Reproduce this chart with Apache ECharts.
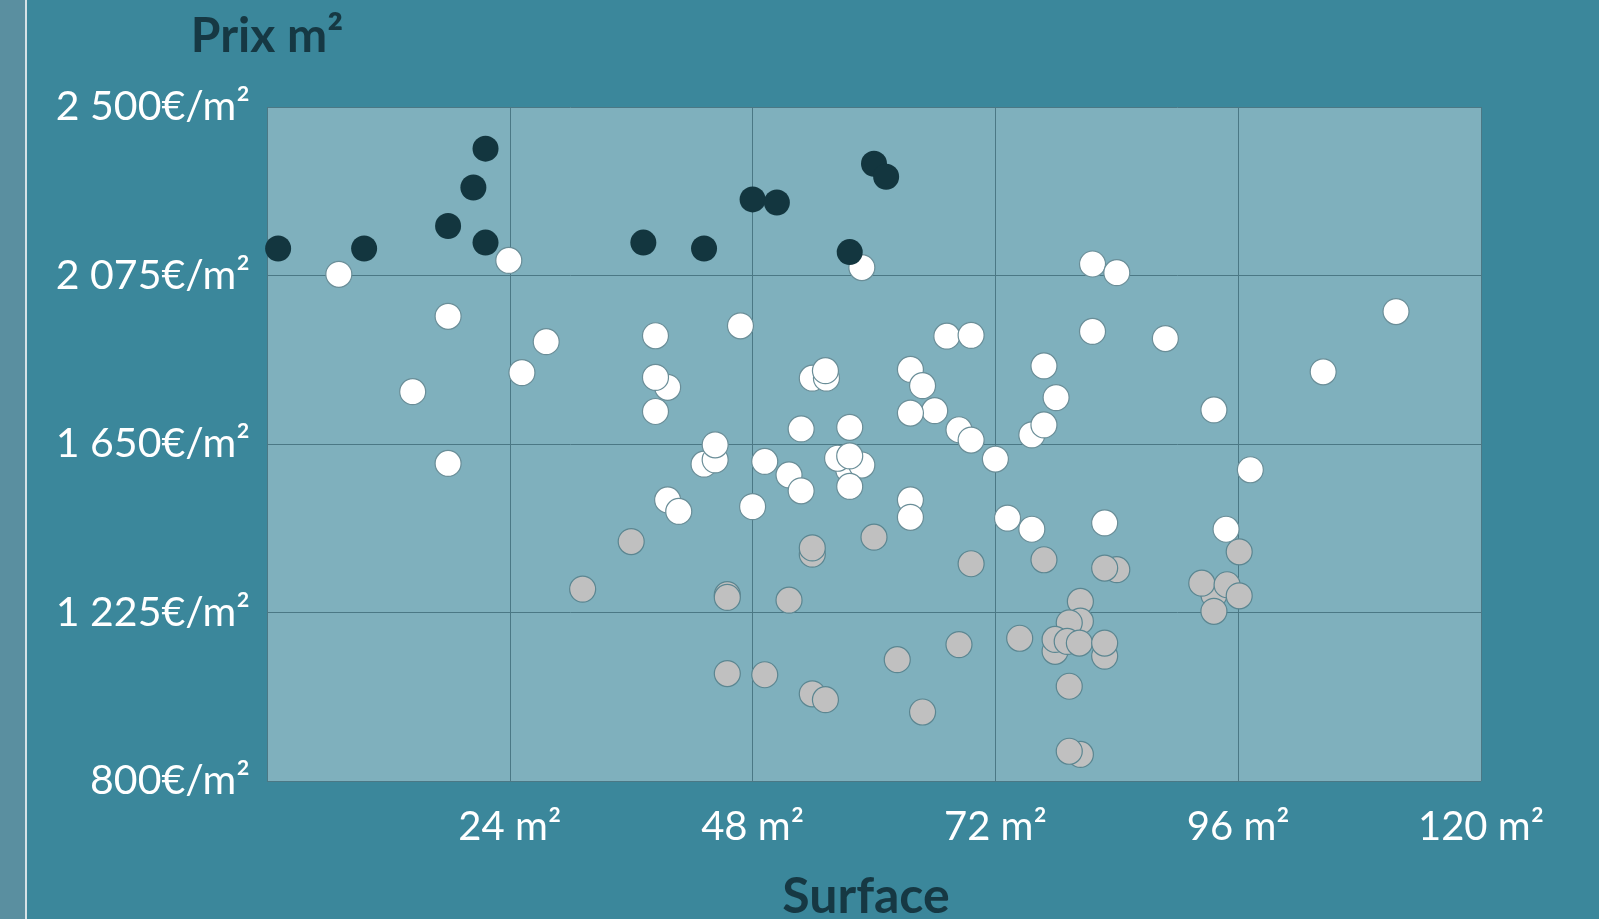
<!DOCTYPE html>
<html>
<head>
<meta charset="utf-8">
<title>Prix m² / Surface</title>
<script src="https://cdn.jsdelivr.net/npm/echarts@6/dist/echarts.min.js"></script>
<style>
  html, body { margin: 0; padding: 0; }
  body { width: 1599px; height: 919px; background: #3b879b; position: relative; overflow: hidden; }
  .bande { position: absolute; left: 0; top: 0; width: 25px; height: 919px; background: #5a8fa0; }
  .trait { position: absolute; left: 25px; top: 0; width: 2px; height: 919px; background: #d6e2e6; }
  #chart { position: absolute; left: 0; top: 0; width: 1599px; height: 919px; }
</style>
</head>
<body>
<div class="bande"></div>
<div class="trait"></div>
<div id="chart"></div>
<script>
// axes
const surfaceMin = 0, surfaceMax = 120, surfacePas = 24
const prixMin = 800, prixMax = 2500, prixPas = 425

// [surface m², prix €/m²] - biens les plus chers (points foncés)
const pointsChers = [
  [1.1, 2143], [9.6, 2143], [17.9, 2200], [20.4, 2297], [21.6, 2395], [21.6, 2158],
  [37.2, 2158], [43.2, 2143], [48.0, 2267], [50.4, 2259], [60.0, 2357], [61.2, 2324],
  [57.6, 2134]
]

// prix moyens (points blancs)
const pointsMoyens = [
  [58.8, 2095], [7.1, 2078], [23.9, 2113], [17.9, 1972], [27.6, 1908], [25.2, 1830],
  [14.4, 1782], [38.4, 1923], [39.6, 1793], [38.4, 1818], [38.4, 1732], [17.9, 1601],
  [39.6, 1509], [40.7, 1480], [46.8, 1948], [67.2, 1922], [69.6, 1924], [53.9, 1816],
  [55.3, 1816], [55.2, 1835], [63.6, 1838], [64.8, 1797], [66.0, 1734], [63.6, 1728],
  [76.8, 1847], [78.0, 1767], [52.8, 1688], [57.6, 1692], [81.6, 2104], [84.0, 2082],
  [81.6, 1934], [88.8, 1916], [111.6, 1984], [104.4, 1832], [93.6, 1736], [97.2, 1585],
  [82.8, 1451], [94.8, 1435], [43.2, 1599], [44.3, 1610], [44.3, 1648], [49.2, 1606],
  [51.6, 1572], [52.8, 1532], [57.5, 1585], [56.4, 1614], [58.8, 1597], [57.6, 1620],
  [57.6, 1543], [68.4, 1686], [69.6, 1660], [72.0, 1612], [75.6, 1673], [76.8, 1698],
  [48.0, 1492], [63.6, 1509], [63.6, 1465], [73.2, 1463], [75.6, 1435]
]

// prix bas (points gris)
const pointsBas = [
  [36.0, 1404], [31.2, 1284], [60.0, 1415], [53.9, 1372], [53.9, 1388], [69.6, 1348],
  [76.8, 1358], [45.5, 1270], [45.5, 1263], [51.6, 1256], [74.4, 1160], [68.4, 1144],
  [62.3, 1106], [45.5, 1071], [49.2, 1068], [53.9, 1020], [55.2, 1005], [64.8, 974],
  [80.4, 1253], [80.4, 1203], [79.3, 1199], [77.9, 1127], [77.9, 1157], [79.1, 1152],
  [80.3, 1148], [82.8, 1115], [82.8, 1148], [79.3, 1039], [80.4, 867], [79.3, 875],
  [96.1, 1378], [84.0, 1333], [82.8, 1337], [93.6, 1270], [92.4, 1299], [94.9, 1295],
  [96.1, 1267], [93.6, 1228]
]

// "2 500€/m²"
function formatPrix(v) {
  return String(v).replace(/\B(?=(\d{3})+(?!\d))/g, ' ') + '€/m²'
}

const chart = echarts.init(document.getElementById('chart'))

const police = 'Lato, "Open Sans", sans-serif'

const option = {
  animation: false,
  backgroundColor: 'transparent',
  grid: {
    show: true,
    left: 267,
    right: 118,
    top: 107,
    bottom: 138,
    outerBoundsMode: 'none', // pas de recadrage auto en v6, le titre du bas déborde comme sur la maquette
    backgroundColor: '#7fb0bd',
    borderWidth: 0
  },
  xAxis: {
    type: 'value',
    min: surfaceMin,
    max: surfaceMax,
    interval: surfacePas,
    name: 'Surface',
    nameLocation: 'middle',
    nameGap: 91,
    nameTextStyle: {
      color: '#163843', fontSize: 50, fontFamily: police, fontWeight: 'bold',
      padding: [0, 16, 0, 0] // un peu décalé vers la gauche
    },
    axisLine: { show: false },
    axisTick: { show: false },
    axisLabel: {
      color: '#ffffff',
      fontSize: 40,
      fontFamily: police,
      margin: 26,
      showMinLabel: false,
      formatter: v => v + ' m²'
    },
    splitLine: { lineStyle: { color: '#4b7885', width: 1 } }
  },
  yAxis: {
    type: 'value',
    min: prixMin,
    max: prixMax,
    interval: prixPas,
    name: 'Prix m²',
    nameLocation: 'end',
    nameGap: 46,
    nameTextStyle: { color: '#163843', fontSize: 48, fontFamily: police, fontWeight: 'bold', align: 'center' },
    axisLine: { show: false },
    axisTick: { show: false },
    axisLabel: {
      color: '#ffffff',
      fontSize: 41,
      fontFamily: police,
      margin: 17,
      formatter: formatPrix
    },
    splitLine: { lineStyle: { color: '#4b7885', width: 1 } }
  },
  series: [
    {
      name: 'bas',
      type: 'scatter',
      symbolSize: 26,
      data: pointsBas,
      itemStyle: { color: '#c0c0c0', borderColor: '#5b8691', borderWidth: 1.2, opacity: 1 }
    },
    {
      name: 'moyens',
      type: 'scatter',
      symbolSize: 26,
      data: pointsMoyens,
      itemStyle: { color: '#ffffff', borderColor: '#6a8e98', borderWidth: 1.2, opacity: 1 }
    },
    {
      name: 'chers',
      type: 'scatter',
      symbolSize: 26,
      data: pointsChers,
      itemStyle: { color: '#13363f', borderWidth: 0, opacity: 1 }
    }
  ]
}

chart.setOption(option)
</script>
</body>
</html>
